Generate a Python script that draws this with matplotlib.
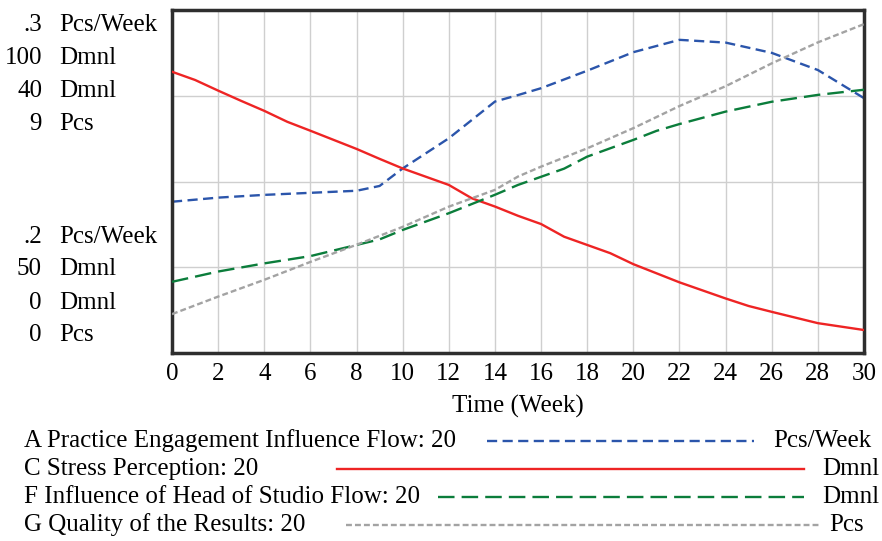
import matplotlib
matplotlib.use("Agg")
import matplotlib.pyplot as plt
from matplotlib.lines import Line2D

plt.rcParams['font.family'] = ['Liberation Serif', 'DejaVu Serif']

# ---- data ----
weeks_a = [0, 2, 4, 6, 8, 9, 10, 12, 14, 15, 16, 18, 20, 22, 24, 26, 28, 30]
practice_flow = [.2441, .2453, .2461, .2467, .2473, .2487, .2538, .2626, .2733, .2752,
                 .2772, .2823, .2877, .2913, .2905, .2875, .2825, .2743]

weeks_c = [0, 1, 2, 3, 4, 5, 6, 8, 9, 10, 12, 13, 14, 15, 16, 17, 18, 19, 20, 22, 24, 25, 26, 28, 30]
stress = [91.0, 89.8, 88.25, 86.75, 85.3, 83.7, 82.4, 79.75, 78.3, 76.9, 74.5, 72.55, 71.35,
          70.0, 68.8, 66.95, 65.75, 64.55, 62.95, 60.3, 57.95, 56.85, 56.0, 54.35, 53.35]

weeks_f = [0, 2, 4, 6, 8, 9, 10, 12, 14, 15, 16, 17, 18, 20, 21, 22, 24, 26, 28, 30]
head_flow = [8.3, 9.5, 10.45, 11.3, 12.6, 13.25, 14.35, 16.3, 18.45, 19.6, 20.55, 21.5,
             22.9, 24.85, 25.9, 26.7, 28.15, 29.3, 30.1, 30.7]

weeks_g = [0, 2, 4, 6, 8, 10, 12, 14, 15, 16, 18, 20, 22, 24, 26, 28, 30]
quality = [1.02, 1.48, 1.92, 2.39, 2.84, 3.31, 3.84, 4.28, 4.63, 4.89, 5.37, 5.90,
           6.48, 7.0, 7.6, 8.15, 8.63]

x_ticks = list(range(0, 31, 2))
top_labels = [(".3", "Pcs/Week"), ("100", "Dmnl"), ("40", "Dmnl"), ("9", "Pcs")]
bottom_labels = [(".2", "Pcs/Week"), ("50", "Dmnl"), ("0", "Dmnl"), ("0", "Pcs")]
ranges = [(.2, .3), (50, 100), (0, 40), (0, 9)]

legend_names = ["A Practice Engagement Influence Flow: 20", "C Stress Perception: 20",
                "F Influence of Head of Studio Flow: 20", "G Quality of the Results: 20"]
legend_units = ["Pcs/Week", "Dmnl", "Dmnl", "Pcs"]

# ---- styles ----
BLUE = "#2b55ab"
RED = "#ee2424"
GREEN = "#0b7d3b"
GRAY = "#a3a3a3"
styles = [
    dict(color=BLUE, lw=1.7, dashes=(4.3, 2.3)),
    dict(color=RED, lw=1.7, linestyle='-'),
    dict(color=GREEN, lw=1.7, dashes=(7, 3)),
    dict(color=GRAY, lw=1.7, dashes=(2.5, 1.3)),
]

W, H = 882, 541
fig = plt.figure(figsize=(W / 100, H / 100), dpi=100)
L, R, T, B = 172, 864, 10, 353
rect = [L / W, 1 - B / H, (R - L) / W, (B - T) / H]
FS = 18

ax = fig.add_axes(rect)
axes = [ax]
for i in range(3):
    a = fig.add_axes(rect, label=f"ov{i}")
    a.patch.set_visible(False)
    a.set_xticks([]); a.set_yticks([])
    for s in a.spines.values():
        s.set_visible(False)
    axes.append(a)

series = [(weeks_a, practice_flow), (weeks_c, stress), (weeks_f, head_flow), (weeks_g, quality)]
for a, (xs, ys), rng, st in zip(axes, series, ranges, styles):
    a.set_xlim(0, 30)
    a.set_ylim(*rng)
    kw = dict(st)
    if 'dashes' in kw:
        d = kw.pop('dashes')
        a.plot(xs, ys, dashes=d, **kw)
    else:
        a.plot(xs, ys, **kw)

ax.set_xticks(x_ticks)
ax.set_xticklabels([str(t) for t in x_ticks], fontsize=FS)
ax.set_yticks([.2 + .025 * k for k in range(5)])
ax.set_yticklabels([])
ax.tick_params(length=0, pad=7)
ax.grid(True, color="#cfcfcf", lw=1)
for s in ax.spines.values():
    s.set_color("#2e2e2e")
    s.set_linewidth(2.5)
ax.set_xlabel("Time (Week)", fontsize=FS, labelpad=7)

# stacked left axis labels
def fy(y):
    return 1 - y / H

for (num, unit), y in zip(top_labels + bottom_labels, [25, 58, 91, 124, 237, 269, 303, 335]):
    fig.text(42 / W, fy(y), num, ha='right', va='center', fontsize=FS)
    fig.text(59 / W, fy(y), unit, ha='left', va='center', fontsize=FS)

# legend
rows_y = [441, 469, 497, 525]
seg = [(487, 754), (337, 804), (438, 804), (346, 819)]
unit_right = [871, 879, 879, 864]
for name, unit, y, (x0, x1), ur, st in zip(legend_names, legend_units, rows_y, seg, unit_right, styles):
    fig.text(24 / W, fy(y), name, ha='left', va='center', fontsize=FS)
    fig.text(ur / W, fy(y), unit, ha='right', va='center', fontsize=FS)
    kw = dict(st)
    if 'dashes' in kw:
        d = kw.pop('dashes')
        ln = Line2D([x0 / W, x1 / W], [fy(y), fy(y)], transform=fig.transFigure, dashes=d, **kw)
    else:
        ln = Line2D([x0 / W, x1 / W], [fy(y), fy(y)], transform=fig.transFigure, **kw)
    fig.add_artist(ln)

fig.savefig("out.png", dpi=100)
